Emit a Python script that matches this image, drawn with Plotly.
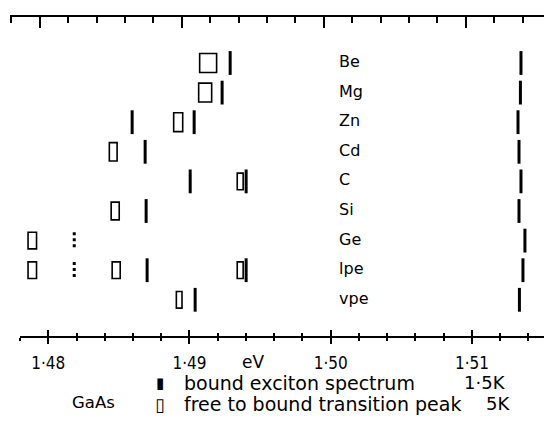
import plotly.graph_objects as go

# ---------------- data ----------------
rows = ["Be", "Mg", "Zn", "Cd", "C", "Si", "Ge", "lpe", "vpe"]

# free-to-bound transition peaks (open rectangles), 5K
fb_rows = ["Be", "Mg", "Zn", "Cd", "C", "Si", "Ge", "lpe", "lpe", "lpe", "vpe"]
fb_energy = [1.49132, 1.49111, 1.48920, 1.48460, 1.49359, 1.48474,
             1.47887, 1.47887, 1.48481, 1.49359, 1.48927]

# bound exciton lines (bars), 1.5K
be_rows = ["Be", "Be", "Mg", "Mg", "Zn", "Zn", "Zn", "Cd", "Cd", "C", "C", "C",
           "Si", "Si", "Ge", "lpe", "lpe", "lpe", "vpe", "vpe"]
be_energy = [1.49288, 1.51347, 1.49231, 1.51343, 1.48594, 1.49033, 1.51326,
             1.48686, 1.51333, 1.49005, 1.49401, 1.51347, 1.48693, 1.51333,
             1.51375, 1.48700, 1.49401, 1.51361, 1.49040, 1.51336]

# weak (dotted) exciton lines
weak_rows = ["Ge", "lpe"]
weak_energy = [1.48184, 1.48184]

tick_vals = [1.48, 1.49, 1.50, 1.51]
tick_text = ["1·48", "1·49", "1·50", "1·51"]

# ---------------- styles ----------------
fb_width_ev = [0.0012, 0.00092, 0.00064, 0.00055, 0.00042, 0.00057,
               0.00060, 0.00060, 0.00057, 0.00042, 0.00040]
fb_height = [0.64, 0.64, 0.64, 0.62, 0.56, 0.60, 0.56, 0.56, 0.56, 0.56, 0.56]

FONT = "DejaVu Sans"
TICKFONT = "Liberation Sans Narrow, DejaVu Sans Condensed, Liberation Sans"
idx = {r: i for i, r in enumerate(rows)}

fig = go.Figure()

# open rectangles
fig.add_trace(go.Bar(
    orientation="h",
    y=[idx[r] for r in fb_rows],
    x=fb_width_ev,
    base=[e - w / 2 for e, w in zip(fb_energy, fb_width_ev)],
    width=fb_height,
    marker=dict(color="white", line=dict(color="black", width=1.6)),
    hoverinfo="skip",
))

# exciton bars
fig.add_trace(go.Scatter(
    x=be_energy, y=[idx[r] for r in be_rows], mode="markers",
    marker=dict(symbol="line-ns", size=17, line=dict(color="black", width=3)),
    hoverinfo="skip",
))

# dotted weak lines
wx, wy = [], []
for r, e in zip(weak_rows, weak_energy):
    wx += [e, e, None]
    wy += [idx[r] - 0.28, idx[r] + 0.28, None]
fig.add_trace(go.Scatter(
    x=wx, y=wy, mode="lines",
    line=dict(color="black", width=3, dash="dot"),
    hoverinfo="skip",
))

# row labels
fig.add_trace(go.Scatter(
    x=[1.50059] * len(rows), y=list(range(len(rows))), mode="text",
    text=rows, textposition="middle right",
    textfont=dict(family=FONT, size=16, color="black"),
    hoverinfo="skip",
))

# invisible helpers so the extra tick axes get drawn
for ax in ("x2", "x3"):
    fig.add_trace(go.Scatter(
        x=[tick_vals[1]], y=[0], xaxis=ax, yaxis="y", mode="markers",
        marker=dict(opacity=0, size=1), hoverinfo="skip",
    ))

W, H = 544, 424
ml, mr, mt, mb = 10, 0, 17, 88
pw = W - ml - mr
ph = H - mt - mb

def px(x):
    return (x - ml) / pw

def py(y):
    return (H - mb - y) / ph

fig.update_layout(
    width=W, height=H,
    margin=dict(l=ml, r=mr, t=mt, b=mb, pad=0, autoexpand=False),
    plot_bgcolor="rgba(0,0,0,0)", paper_bgcolor="white",
    showlegend=False, barmode="overlay",
    font=dict(family=FONT, color="black"),
    xaxis=dict(
        domain=[10 / pw, 1], range=[1.478, 1.5151],
        tickvals=tick_vals, ticktext=tick_text,
        ticks="outside", ticklen=6, tickwidth=1.5, tickcolor="black",
        showline=True, linewidth=1.5, linecolor="black",
        showgrid=False, zeroline=False, automargin=False,
        tickfont=dict(family=TICKFONT, size=17, color="black"),
        ticklabelstandoff=5,
        minor=dict(tick0=1.48, dtick=0.002, ticks="outside", ticklen=3,
                   tickwidth=1.5, tickcolor="black", showgrid=False),
        anchor="y",
    ),
    xaxis2=dict(
        overlaying="x", side="bottom", anchor="y",
        range=[1.478, 1.5151],
        tickvals=tick_vals, showticklabels=False,
        ticks="inside", ticklen=6, tickwidth=1.5, tickcolor="black",
        showline=False, showgrid=False, zeroline=False, automargin=False,
        minor=dict(tick0=1.48, dtick=0.002, ticks="inside", ticklen=3,
                   tickwidth=1.5, tickcolor="black", showgrid=False),
    ),
    xaxis3=dict(
        side="top", anchor="y",
        domain=[0, 1], range=[1.4779, 1.5155],
        tickvals=tick_vals, showticklabels=False,
        ticks="inside", ticklen=11, tickwidth=1.5, tickcolor="black",
        showline=True, linewidth=2, linecolor="black",
        showgrid=False, zeroline=False, automargin=False,
        minor=dict(tick0=1.48, dtick=0.002, ticks="inside", ticklen=6,
                   tickwidth=1.5, tickcolor="black", showgrid=False),
    ),
    yaxis=dict(range=[9.223, -1.554], visible=False, domain=[0, 1],
               automargin=False),
)

ann = []
def add(text, x, y, xanchor="left", size=19):
    ann.append(dict(text=text, x=px(x), y=py(y), xref="paper", yref="paper",
                    xanchor=xanchor, yanchor="middle", showarrow=False,
                    font=dict(family=FONT, size=size, color="black")))

add("eV", 253, 362, "center", 17)
add("▮", 160, 383, "center", 15)
add("bound exciton spectrum", 182, 383, size=19)
add("1·5K", 508, 382, "right", 18)
add("GaAs", 93, 402, "center", 16.5)
add("▯", 160, 404, "center", 18)
add("free to bound transition peak", 182, 404, size=19)
add("5K", 512, 403, "right", 18)
fig.update_layout(annotations=ann)

fig.write_html(
    "out.html",
    config={"displayModeBar": False},
    post_script="document.body.style.margin='0';"
                "document.body.style.overflow='hidden';",
)
